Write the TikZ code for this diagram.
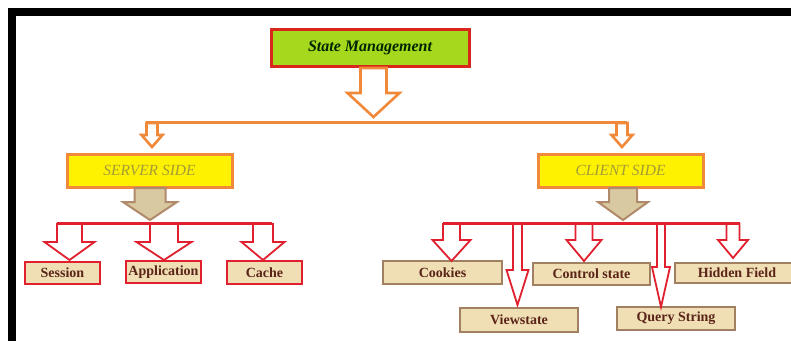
\documentclass[tikz,border=0pt]{standalone}
\usepackage{fontspec}
\setmainfont{Liberation Serif}
\definecolor{limefill}{HTML}{A6D91E}
\definecolor{titlered}{HTML}{D8281C}
\definecolor{orangeln}{HTML}{F0893A}
\definecolor{sideyellow}{HTML}{FEF200}
\definecolor{sidetext}{HTML}{A49C34}
\definecolor{tanfill}{HTML}{D9C9A0}
\definecolor{tanedge}{HTML}{B08A6A}
\definecolor{busred}{HTML}{E0202E}
\definecolor{leaffill}{HTML}{F0DEB4}
\definecolor{leafedge}{HTML}{A08060}
\definecolor{leaftext}{HTML}{5A2418}

% block arrow: style, centre x, top y, half shaft, half head, head start y, tip y
\newcommand\blockarr[7]{%
  \draw[#1] (#2-#4,#3) -- (#2+#4,#3) -- (#2+#4,#6) -- (#2+#5,#6) -- (#2,#7)
    -- (#2-#5,#6) -- (#2-#4,#6) -- cycle;}

\tikzset{
  titlebox/.style={draw=titlered, line width=3, fill=limefill, inner sep=0,
    minimum width=198, minimum height=37,
    font=\fontsize{16}{18}\selectfont\bfseries\itshape, text=black!85!green},
  sidebox/.style={draw=orangeln, line width=3, fill=sideyellow, inner sep=0,
    minimum width=165, minimum height=33,
    font=\fontsize{15.5}{18}\selectfont\itshape, text=sidetext},
  leaf/.style={fill=leaffill, line width=1.6, inner sep=0, minimum height=22,
    font=\fontsize{14}{16}\selectfont\bfseries, text=leaftext},
  srvleaf/.style={leaf, draw=busred, minimum width=75},
  cltleaf/.style={leaf, draw=leafedge, minimum width=118},
  orangearrow/.style={draw=orangeln, fill=white, line width=2.6},
  tanarrow/.style={draw=tanedge, fill=tanfill, line width=2},
  redarrow/.style={draw=busred, fill=white, line width=1.8},
  orangebus/.style={draw=orangeln, line width=3},
  redbus/.style={draw=busred, line width=3},
}

\begin{document}
\begin{tikzpicture}[x=1pt, y=-1pt]
\useasboundingbox (0,0) rectangle (791,341);
\fill[white] (0,0) rectangle (791,341);
% black frame
\fill[black] (8,8) rectangle (791,16);
\fill[black] (8,8) rectangle (16,341);

% boxes
\node[titlebox] (title) at (370,47.5) {State Management};
\node[sidebox] (server) at (149.5,170.5) {SERVER SIDE};
\node[sidebox] (client) at (620.5,170.5) {CLIENT SIDE};

\node[srvleaf] (session) at (62.5,273) {Session};
\node[srvleaf] (application) at (163.5,272) {\raisebox{2pt}{Application}};
\node[srvleaf, minimum height=23] (cache) at (264.5,272.5) {Cache};

\node[cltleaf, minimum width=119, minimum height=23] (cookies) at (442.5,272.5) {Cookies};
\node[cltleaf, minimum width=117] (control) at (591.5,274) {Control state};
\node[cltleaf, minimum height=24] (viewstate) at (519,320) {Viewstate};
\node[cltleaf, minimum height=23] (query) at (676,318.5) {Query String};
\node[cltleaf, minimum width=124, minimum height=20] (hidden) at (737,273) {Hidden Field};

% main split
\coordinate (splitL) at (146,122);
\coordinate (splitR) at (627,122);
\draw[orangebus] (splitL) -- (splitR);
\blockarr{orangearrow}{373.5}{68}{13}{26}{93}{117}
\blockarr{orangearrow}{152}{123}{5.5}{10.5}{135}{147}
\blockarr{orangearrow}{622}{123}{5.5}{10.5}{135}{147}

% server side
\coordinate (srvL) at (57,223);
\coordinate (srvR) at (272,223);
\draw[redbus] (srvL) -- (srvR);
\blockarr{tanarrow}{150}{188}{15.5}{27}{202}{220}
\blockarr{redarrow}{69.5}{224}{12.5}{25}{242}{260}
\blockarr{redarrow}{164}{224}{14}{27.5}{242}{260}
\blockarr{redarrow}{263}{224}{10}{21.5}{242}{260}

% client side
\coordinate (cltL) at (443,223);
\coordinate (cltR) at (740,223);
\draw[redbus] (cltL) -- (cltR);
\blockarr{tanarrow}{623}{188}{14}{25}{202}{220}
\blockarr{redarrow}{451.5}{224}{8.5}{19}{240}{261}
\blockarr{redarrow}{517.5}{224}{4.5}{11}{270}{305}
\blockarr{redarrow}{584}{224}{8.5}{17.5}{240}{261}
\blockarr{redarrow}{661}{224}{4}{9}{267}{307}
\blockarr{redarrow}{733}{224}{6.5}{15}{240}{258}
\end{tikzpicture}
\end{document}
